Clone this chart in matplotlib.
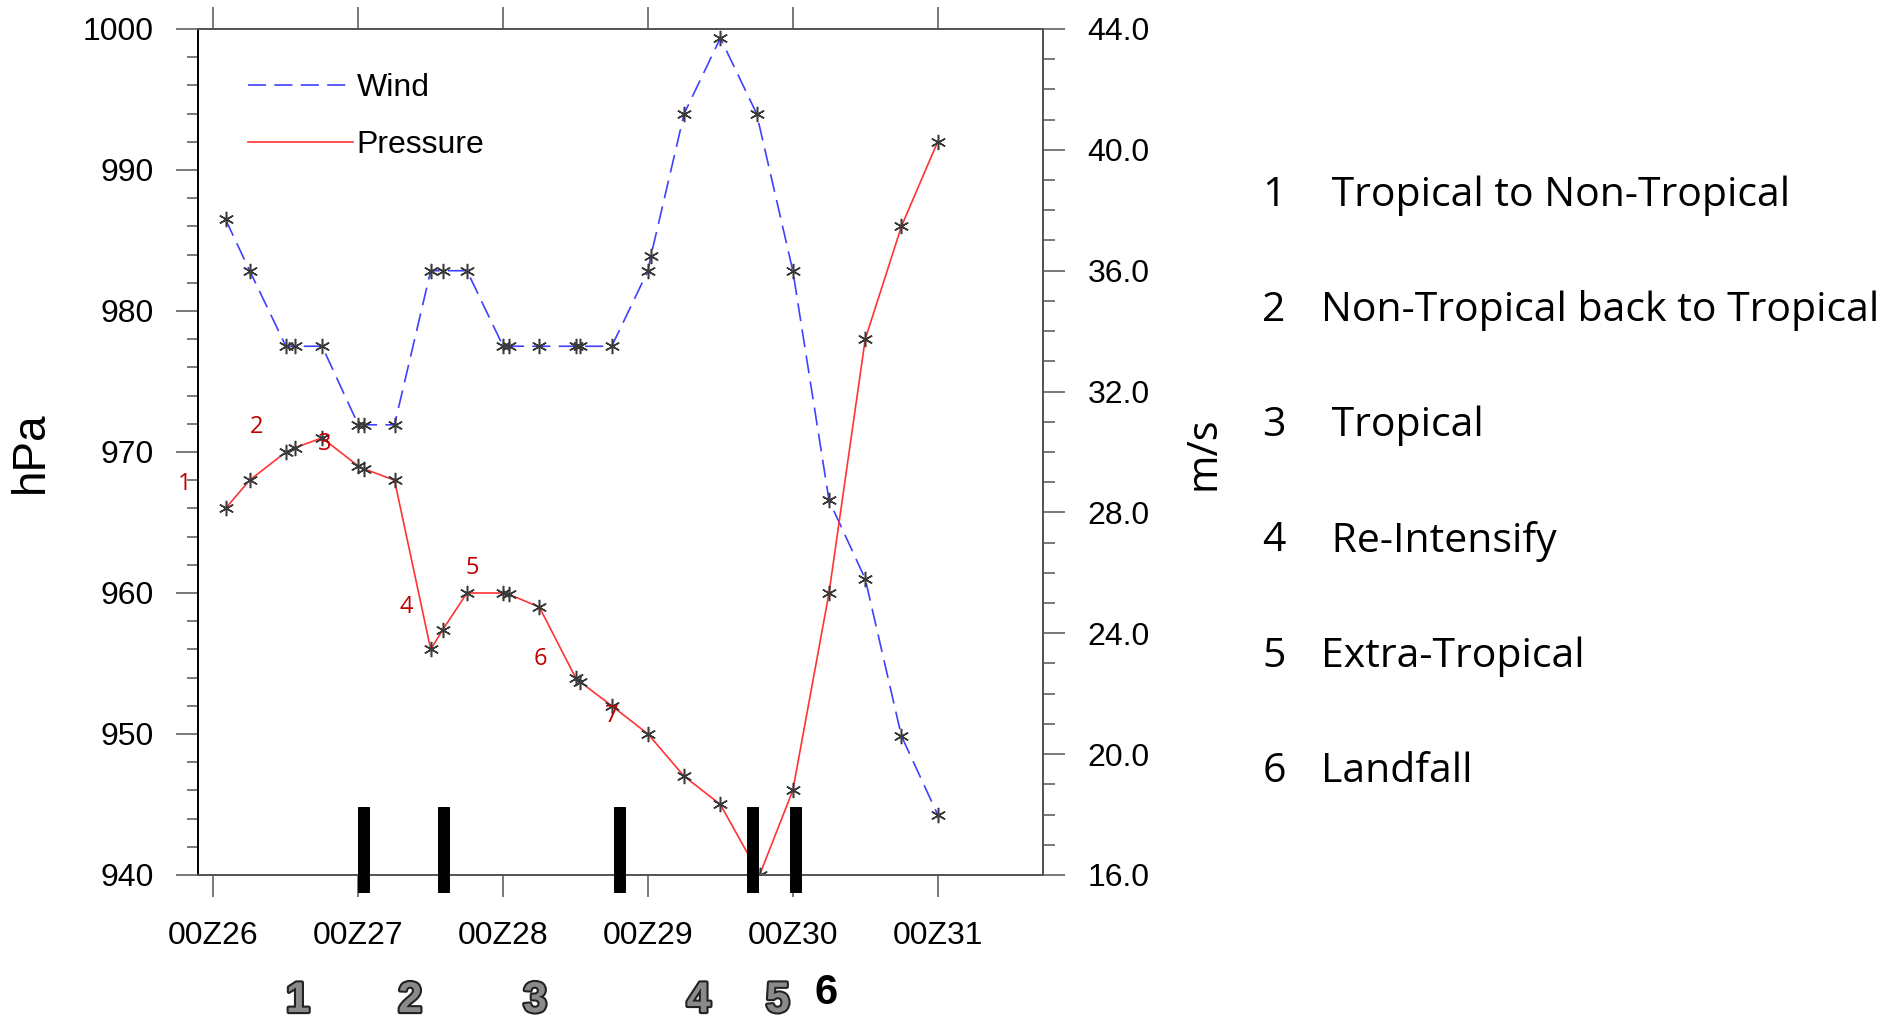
import numpy as np
import matplotlib
matplotlib.use('Agg')
import matplotlib.pyplot as plt
import matplotlib.transforms as mtransforms
import matplotlib.patheffects as pe
from matplotlib.lines import Line2D
from matplotlib.ticker import MultipleLocator, FormatStrFormatter

plt.rcParams['font.family'] = ['Liberation Sans', 'DejaVu Sans']
plt.rcParams['lines.scale_dashes'] = False

# hours after 00Z26
pres_hours = [2, 6, 12, 13.5, 18, 24, 25, 30, 36, 38, 42, 48, 49, 54, 60, 60.75,
              66, 72, 78, 84, 90.5, 96, 102, 108, 114, 120]
pres_hpa = [966.0, 968.0, 970.0, 970.3, 971.0, 969.0, 968.8, 968.0, 956.0, 957.4,
            960.0, 960.0, 959.9, 959.0, 954.0, 953.7, 952.0, 950.0, 947.0, 945.0,
            940.0, 946.0, 960.0, 978.0, 986.0, 992.0]

wind_hours = [2, 6, 12, 13.5, 18, 24, 25, 30, 36, 38, 42, 48, 49, 54, 60, 60.75,
              66, 72, 72.5, 78, 84, 90, 96, 102, 108, 114, 120]
wind_ms = [37.7, 36.0, 33.5, 33.5, 33.5, 30.9, 30.9, 30.9, 36.0, 36.0, 36.0, 33.5,
           33.5, 33.5, 33.5, 33.5, 33.5, 36.0, 36.5, 41.2, 43.7, 41.2, 36.0, 28.4,
           25.8, 20.6, 18.0]

day_ticks = [0, 24, 48, 72, 96, 120]
day_labels = ['00Z26', '00Z27', '00Z28', '00Z29', '00Z30', '00Z31']

# black event bars along the bottom
event_hours = [25.0, 38.2, 67.4, 89.4, 96.5]

# red numbers along the pressure curve
note_labels = ['1', '2', '3', '4', '5', '6', '7']
note_hours = [-4.7, 7.2, 18.5, 32.0, 42.9, 54.2, 66.0]
note_hpa = [967.7, 971.8, 970.6, 959.0, 961.8, 955.3, 951.3]

# stage numbers under the axis
stage_labels = ['1', '2', '3', '4', '5', '6']
stage_hours = [14.0, 32.6, 53.3, 80.4, 93.5, 101.5]

key_nums = ['1', '2', '3', '4', '5', '6']
key_text = [' Tropical to Non-Tropical', 'Non-Tropical back to Tropical', ' Tropical',
            ' Re-Intensify', 'Extra-Tropical', 'Landfall']

fig = plt.figure(figsize=(19.02, 10.21), dpi=100)
ax = fig.add_axes([0.1043, 0.143, 0.4442, 0.8286])
ax2 = ax.twinx()

wind_col = '#4040ff'
pres_col = '#ff3333'
mk = dict(marker=(6, 2, 0), markersize=11, markeredgecolor='#3a3a3a',
          markeredgewidth=1.1)

ax2.plot(wind_hours, wind_ms, color=wind_col, lw=1.2, dashes=(13, 6), **mk)
ax.plot(pres_hours, pres_hpa, color=pres_col, lw=1.2, **mk)
ax.set_zorder(ax2.get_zorder() + 1)
ax.patch.set_visible(False)

ax.set_xlim(-2.5, 137.5)
ax.set_ylim(940, 1000)
ax2.set_ylim(16, 44)

ax.set_xticks(day_ticks)
ax.set_xticklabels(day_labels)
ax.yaxis.set_major_locator(MultipleLocator(10))
ax.yaxis.set_minor_locator(MultipleLocator(2))
ax2.yaxis.set_major_locator(MultipleLocator(4))
ax2.yaxis.set_minor_locator(MultipleLocator(1))
ax2.yaxis.set_major_formatter(FormatStrFormatter('%.1f'))

tick_col = '#555555'
ax.tick_params(axis='x', which='major', direction='out', length=16, width=1.1,
               color=tick_col, top=True, labelsize=23, pad=17)
ax.tick_params(axis='y', which='major', direction='out', length=16, width=1.1,
               color=tick_col, labelsize=23, pad=16)
ax.tick_params(axis='y', which='minor', direction='out', length=8, width=1.1,
               color=tick_col)
ax2.tick_params(axis='y', which='major', direction='out', length=16, width=1.1,
                color=tick_col, labelsize=23, pad=16)
ax2.tick_params(axis='y', which='minor', direction='out', length=8.5, width=1.1,
                color=tick_col)
for a in (ax, ax2):
    for s in a.spines.values():
        s.set_color('#555555')
        s.set_linewidth(1.4)
ax.spines['left'].set_color('black')

# event bars
ax.vlines(event_hours, 938.7, 944.85, colors='black', lw=8.6, clip_on=False, zorder=5)

for lab, h, p in zip(note_labels, note_hours, note_hpa):
    ax.text(h, p, lab, color='#c00000', fontsize=17, family='Open Sans',
            ha='center', va='center')

handles = [Line2D([], [], color=wind_col, lw=1.2, dashes=(13, 6)),
           Line2D([], [], color=pres_col, lw=1.2)]
ax.legend(handles, ['Wind', 'Pressure'], loc='upper left',
          bbox_to_anchor=(0.0588, 0.948), frameon=False, fontsize=23,
          handlelength=3.3, handletextpad=0.1, labelspacing=0.85,
          borderpad=0, borderaxespad=0)

blend = mtransforms.blended_transform_factory(ax.transData, ax.transAxes)
for lab, h in zip(stage_labels, stage_hours):
    if lab == '6':
        ax.text(h, -0.14, lab, transform=blend, fontsize=30, weight='bold',
                color='black', ha='center', va='center', clip_on=False)
    else:
        t = ax.text(h, -0.149, lab, transform=blend, fontsize=31, weight='bold',
                    color='#8a8a8a', ha='center', va='center', clip_on=False)
        t.set_path_effects([pe.Stroke(linewidth=3, foreground='#222222'), pe.Normal()])

fig.text(31 / 1902, 1 - 452 / 1021, 'hPa', rotation=90, fontsize=33,
         ha='center', va='center')
fig.text(1203 / 1902, 1 - 453 / 1021, 'm/s', rotation=90, fontsize=30,
         family='Open Sans', ha='center', va='center')

for i, (n, t) in enumerate(zip(key_nums, key_text)):
    y = 1 - (195.5 + i * 115.2) / 1021
    fig.text(1274 / 1902, y, n, fontsize=29.5, family='Open Sans',
             ha='center', va='center')
    fig.text(1321 / 1902, y, t, fontsize=29.5, family='Open Sans',
             ha='left', va='center')

fig.savefig('out.png', dpi=100)
